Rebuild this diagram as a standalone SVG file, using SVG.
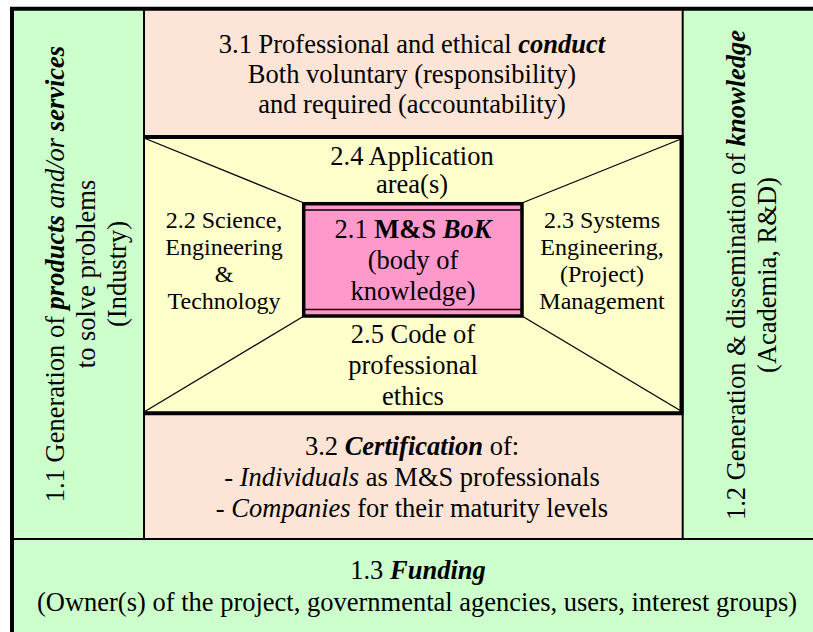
<svg xmlns="http://www.w3.org/2000/svg" width="813" height="632" viewBox="0 0 813 632">
<style>
text{font-family:"Liberation Serif","Times New Roman",serif;fill:#000;text-anchor:middle}
.t{font-size:26.5px}
.s{font-size:24px}
.b{font-weight:bold}
.i{font-style:italic}
.bi{font-weight:bold;font-style:italic}
.green{fill:#CCFFCC}
.peach{fill:#FCE4D6}
.yellow{fill:#FFFFCC}
.thin{stroke:#000;stroke-width:2;fill:none}
.thick{stroke:#000;stroke-width:4;fill:none}
.diag{stroke:#000;stroke-width:1.3;fill:none}
</style>
<rect x="0" y="0" width="813" height="632" fill="#FFFFFF"/>

<g id="node-1-1">
<rect class="green" x="12" y="9" width="132" height="530"/>
<text class="t" transform="rotate(-90 64 274)" x="64" y="274">1.1 Generation of <tspan class="bi">products</tspan> <tspan class="i">and/or</tspan> <tspan class="bi">services</tspan></text>
<text class="t" transform="rotate(-90 95 274)" x="95" y="274">to solve problems</text>
<text class="t" transform="rotate(-90 126 274)" x="126" y="274">(Industry)</text>
</g>

<g id="node-1-2">
<rect class="green" x="683" y="9" width="130" height="530"/>
<text class="t" transform="rotate(-90 745 275)" x="745" y="275">1.2 Generation &amp; dissemination of <tspan class="bi">knowledge</tspan></text>
<text class="t" transform="rotate(-90 776 275)" x="776" y="275">(Academia, R&amp;D)</text>
</g>

<g id="node-1-3">
<rect class="green" x="12" y="539" width="801" height="93"/>
<text class="t" x="418" y="579">1.3 <tspan class="bi">Funding</tspan></text>
<text class="t" x="417" y="611">(Owner(s) of the project, governmental agencies, users, interest groups)</text>
</g>

<g id="node-3-1">
<rect class="peach" x="144" y="9" width="539" height="128"/>
<text class="t" x="412" y="53">3.1 Professional and ethical <tspan class="bi">conduct</tspan></text>
<text class="t" x="412" y="83">Both voluntary (responsibility)</text>
<text class="t" x="412" y="113">and required (accountability)</text>
</g>

<g id="node-3-2">
<rect class="peach" x="144" y="413" width="539" height="126"/>
<text class="t" x="412" y="455">3.2 <tspan class="bi">Certification</tspan> of:</text>
<text class="t" x="412" y="486">- <tspan class="i">Individuals</tspan> as M&amp;S professionals</text>
<text class="t" x="412" y="517">- <tspan class="i">Companies</tspan> for their maturity levels</text>
</g>

<g id="node-2-frame">
<rect class="yellow" x="144" y="137" width="538" height="276"/>
</g>

<g id="connectors">
<line class="diag" x1="144" y1="138" x2="304" y2="203"/>
<line class="diag" x1="681" y1="139" x2="522" y2="203"/>
<line class="diag" x1="144" y1="412" x2="304" y2="316"/>
<line class="diag" x1="681" y1="411" x2="522" y2="316"/>
</g>

<g id="node-2-4">
<text class="t" x="412" y="165">2.4 Application</text>
<text class="t" x="412" y="193">area(s)</text>
</g>

<g id="node-2-2">
<text class="s" x="224" y="228">2.2 Science,</text>
<text class="s" x="224" y="255">Engineering</text>
<text class="s" x="224" y="282">&amp;</text>
<text class="s" x="224" y="309">Technology</text>
</g>

<g id="node-2-3">
<text class="s" x="602" y="228">2.3 Systems</text>
<text class="s" x="602" y="255">Engineering,</text>
<text class="s" x="602" y="282">(Project)</text>
<text class="s" x="602" y="309">Management</text>
</g>

<g id="node-2-5">
<text class="t" x="413" y="343">2.5 Code of</text>
<text class="t" x="413" y="374">professional</text>
<text class="t" x="413" y="405">ethics</text>
</g>

<g id="node-2-1">
<rect x="303.7" y="203.7" width="218.3" height="112.3" fill="#FF99CC" stroke="#000" stroke-width="3.5"/>
<line class="thin" x1="304" y1="210" x2="522" y2="210" style="stroke-width:1.6"/>
<line class="thin" x1="304" y1="309.5" x2="522" y2="309.5" style="stroke-width:1.6"/>
<text class="t" x="413" y="238">2.1 <tspan class="b">M&amp;S</tspan> <tspan class="bi">BoK</tspan></text>
<text class="t" x="413" y="269">(body of</text>
<text class="t" x="413" y="300">knowledge)</text>
</g>

<g id="borders">
<line class="thin" x1="144" y1="9" x2="144" y2="539"/>
<line class="thin" x1="682.7" y1="9" x2="682.7" y2="539"/>
<line class="thin" x1="12" y1="539" x2="813" y2="539"/>
<path class="thick" d="M144,137 H681.5 V413.3 H144"/>
<path class="thick" d="M12,640 V8.7 H820"/>
</g>
</svg>
